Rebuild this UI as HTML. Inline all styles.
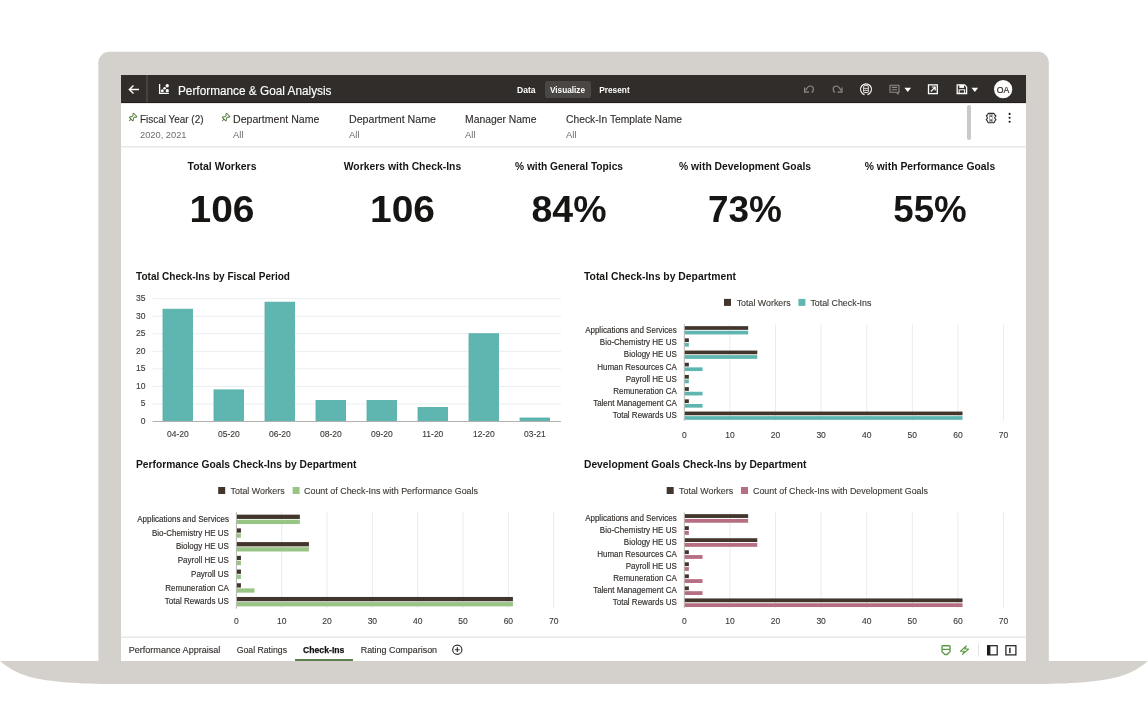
<!DOCTYPE html>
<html><head><meta charset="utf-8"><style>
html,body{margin:0;padding:0;background:#fff;width:1148px;height:724px;overflow:hidden}
svg{display:block;font-family:"Liberation Sans", sans-serif;will-change:transform}
</style></head><body>
<svg width="1148" height="724" viewBox="0 0 1148 724">
<rect x="98.4" y="51.8" width="950.4" height="620" rx="11" fill="#d4d1cc"/>
<path d="M0 661 H1148 C1130.5 675.5 1112.7 684 1031 684 H117 C35.3 684 17.5 675.5 0 661 Z" fill="#d4d1cc"/>
<rect x="121" y="75" width="905" height="586" fill="#ffffff" rx="0"/>
<rect x="121" y="75" width="905" height="28" fill="#312d2a" rx="0"/>
<rect x="146" y="75" width="2" height="28" fill="#47433f" rx="0"/>
<rect x="121" y="102.2" width="905" height="0.9" fill="#1e1b19" rx="0"/>
<path d="M139 89.5 H129.5 M133.5 85.5 L129.3 89.5 L133.5 93.5" stroke="#fff" stroke-width="1.4" fill="none"/>
<path d="M159.6 84 V93.3 H168.8" stroke="#fff" stroke-width="1.3" fill="none"/>
<circle cx="162.3" cy="90.7" r="1.5" fill="#fff"/><circle cx="164.6" cy="88.3" r="1.3" fill="#fff"/><circle cx="167.2" cy="85.8" r="1.7" fill="#fff"/><circle cx="167.3" cy="90.7" r="1.6" fill="#fff"/>
<text x="178" y="95" font-size="12" fill="#fff" font-weight="normal" text-anchor="start" textLength="153.5" lengthAdjust="spacingAndGlyphs" stroke="#fff" stroke-width="0.15">Performance &amp; Goal Analysis</text>
<rect x="545" y="81" width="46" height="17" fill="#4a4643" rx="2"/>
<text x="517" y="93.3" font-size="9" fill="#fff" font-weight="bold" text-anchor="start" textLength="18.5" lengthAdjust="spacingAndGlyphs">Data</text>
<text x="550" y="93.3" font-size="9" fill="#fff" font-weight="bold" text-anchor="start" textLength="35" lengthAdjust="spacingAndGlyphs">Visualize</text>
<text x="599.2" y="93.3" font-size="9" fill="#fff" font-weight="bold" text-anchor="start" textLength="30.5" lengthAdjust="spacingAndGlyphs">Present</text>
<path d="M811.8 92.6 C814.6 89.6 813.6 86 810.2 86 C808.6 86 807.3 87 805.6 90.6" stroke="#8f8b88" stroke-width="1.2" fill="none"/><path d="M804.6 87.6 V92.2 H809" stroke="#8f8b88" stroke-width="1.2" fill="none"/>
<path d="M834.8 92.6 C832 89.6 833 86 836.4 86 C838 86 839.3 87 841 90.6" stroke="#8f8b88" stroke-width="1.2" fill="none"/><path d="M842 87.6 V92.2 H837.6" stroke="#8f8b88" stroke-width="1.2" fill="none"/>
<path d="M864.5 94.6 A5.5 5.5 0 1 1 867.5 94.6" stroke="#fff" stroke-width="1.2" fill="none"/>
<rect x="863.7" y="85.6" width="4.6" height="7" rx="0.8" stroke="#fff" stroke-width="0.95" fill="none"/><path d="M864.3 88.4 H867.7 M864.3 90.4 H867.7" stroke="#fff" stroke-width="0.8"/><rect x="865.2" y="84.5" width="1.6" height="1.2" fill="#bbb"/>
<path d="M890 85.2 H899 V92.2 H898 V94 L896.2 92.2 H890 Z M891.8 87.4 H897.2 M891.8 89.7 H897.2" stroke="#8f8b88" stroke-width="1.1" fill="none"/>
<path d="M904.4 87.8 H911.1 L907.75 92 Z" fill="#fff"/>
<rect x="928.5" y="84.9" width="8.8" height="8.7" stroke="#fff" stroke-width="1.3" fill="none"/><path d="M930.8 91.5 L935 87.3 M931.8 87 H935.2 V90.4" stroke="#fff" stroke-width="1.2" fill="none"/>
<path d="M957.2 84.9 H964.6 L966.6 86.9 V93.5 H957.2 Z" stroke="#fff" stroke-width="1.3" fill="none"/><rect x="959.3" y="84.9" width="4.8" height="3" fill="#fff"/><rect x="959.2" y="89.8" width="5.4" height="3.7" stroke="#fff" stroke-width="1" fill="none"/>
<path d="M971.5 87.8 H978.2 L974.85 92 Z" fill="#fff"/>
<circle cx="1003.15" cy="89.2" r="9.1" fill="#fff"/>
<text x="1003.1" y="92.9" font-size="9.2" fill="#312d2a" font-weight="normal" text-anchor="middle" textLength="12.6" lengthAdjust="spacingAndGlyphs" stroke="#312d2a" stroke-width="0.2">OA</text>
<rect x="121" y="146.3" width="905" height="1.2" fill="#e4e3e1" rx="0"/>
<g transform="translate(135.25 114.9) rotate(45)"><path d="M-2.3 0 H2.3 V1.1 L1.1 1.9 V3.8 L2.4 5 V6 H-2.4 V5 L-1.1 3.8 V1.9 L-2.3 1.1 Z" stroke="#4e7d3c" stroke-width="0.95" fill="none" stroke-linejoin="round"/><path d="M0 6 V8.6" stroke="#4e7d3c" stroke-width="1"/></g>
<g transform="translate(228.25 114.9) rotate(45)"><path d="M-2.3 0 H2.3 V1.1 L1.1 1.9 V3.8 L2.4 5 V6 H-2.4 V5 L-1.1 3.8 V1.9 L-2.3 1.1 Z" stroke="#4e7d3c" stroke-width="0.95" fill="none" stroke-linejoin="round"/><path d="M0 6 V8.6" stroke="#4e7d3c" stroke-width="1"/></g>
<text x="140" y="122.8" font-size="10" fill="#312d2a" font-weight="normal" text-anchor="start" textLength="63.5" lengthAdjust="spacingAndGlyphs" stroke="#312d2a" stroke-width="0.12">Fiscal Year (2)</text>
<text x="233" y="122.8" font-size="10" fill="#312d2a" font-weight="normal" text-anchor="start" textLength="86.4" lengthAdjust="spacingAndGlyphs" stroke="#312d2a" stroke-width="0.12">Department Name</text>
<text x="349" y="122.8" font-size="10" fill="#312d2a" font-weight="normal" text-anchor="start" textLength="87" lengthAdjust="spacingAndGlyphs" stroke="#312d2a" stroke-width="0.12">Department Name</text>
<text x="465" y="122.8" font-size="10" fill="#312d2a" font-weight="normal" text-anchor="start" textLength="71.5" lengthAdjust="spacingAndGlyphs" stroke="#312d2a" stroke-width="0.12">Manager Name</text>
<text x="566" y="122.8" font-size="10" fill="#312d2a" font-weight="normal" text-anchor="start" textLength="116" lengthAdjust="spacingAndGlyphs" stroke="#312d2a" stroke-width="0.12">Check-In Template Name</text>
<text x="140" y="138" font-size="9.4" fill="#6f6c69" font-weight="normal" text-anchor="start" textLength="46.5" lengthAdjust="spacingAndGlyphs">2020, 2021</text>
<text x="233" y="137.9" font-size="9.8" fill="#6f6c69" font-weight="normal" text-anchor="start" textLength="10.5" lengthAdjust="spacingAndGlyphs">All</text>
<text x="349" y="137.9" font-size="9.8" fill="#6f6c69" font-weight="normal" text-anchor="start" textLength="10.5" lengthAdjust="spacingAndGlyphs">All</text>
<text x="465" y="137.9" font-size="9.8" fill="#6f6c69" font-weight="normal" text-anchor="start" textLength="10.5" lengthAdjust="spacingAndGlyphs">All</text>
<text x="566" y="137.9" font-size="9.8" fill="#6f6c69" font-weight="normal" text-anchor="start" textLength="10.5" lengthAdjust="spacingAndGlyphs">All</text>
<rect x="967" y="105" width="4" height="35" fill="#c9c9c9" rx="2"/>
<path d="M988.2 113.4 H994 L994.9 115 L996 116 L994.9 117.2 V118.6 L996 119.7 L994.9 120.9 L994 122.8 H988.2 L987.3 120.9 L986.2 119.7 L987.3 118.6 V117.2 L986.2 116 L987.3 115 Z" stroke="#312d2a" stroke-width="1.1" fill="none" stroke-linejoin="round"/>
<rect x="989.4" y="114.7" width="3.4" height="6.9" stroke="#8a8683" stroke-width="0.7" fill="none"/><circle cx="991.1" cy="116.1" r="0.95" fill="#312d2a"/><circle cx="991.1" cy="120.1" r="0.95" fill="#312d2a"/>
<circle cx="1009.6" cy="113.9" r="1.05" fill="#161513"/>
<circle cx="1009.6" cy="117.8" r="1.05" fill="#161513"/>
<circle cx="1009.6" cy="121.7" r="1.05" fill="#161513"/>
<text x="222" y="170.2" font-size="10.2" fill="#161513" font-weight="bold" text-anchor="middle" textLength="69" lengthAdjust="spacingAndGlyphs">Total Workers</text>
<text x="222" y="221.8" font-size="36.5" fill="#161513" font-weight="bold" text-anchor="middle" textLength="65" lengthAdjust="spacingAndGlyphs">106</text>
<text x="402.5" y="170.2" font-size="10.2" fill="#161513" font-weight="bold" text-anchor="middle" textLength="117.5" lengthAdjust="spacingAndGlyphs">Workers with Check-Ins</text>
<text x="402.5" y="221.8" font-size="36.5" fill="#161513" font-weight="bold" text-anchor="middle" textLength="65" lengthAdjust="spacingAndGlyphs">106</text>
<text x="569" y="170.2" font-size="10.2" fill="#161513" font-weight="bold" text-anchor="middle" textLength="108" lengthAdjust="spacingAndGlyphs">% with General Topics</text>
<text x="569" y="221.8" font-size="36.5" fill="#161513" font-weight="bold" text-anchor="middle" textLength="75" lengthAdjust="spacingAndGlyphs">84%</text>
<text x="745" y="170.2" font-size="10.2" fill="#161513" font-weight="bold" text-anchor="middle" textLength="132" lengthAdjust="spacingAndGlyphs">% with Development Goals</text>
<text x="745" y="221.8" font-size="36.5" fill="#161513" font-weight="bold" text-anchor="middle" textLength="74" lengthAdjust="spacingAndGlyphs">73%</text>
<text x="930" y="170.2" font-size="10.2" fill="#161513" font-weight="bold" text-anchor="middle" textLength="130.5" lengthAdjust="spacingAndGlyphs">% with Performance Goals</text>
<text x="930" y="221.8" font-size="36.5" fill="#161513" font-weight="bold" text-anchor="middle" textLength="73.5" lengthAdjust="spacingAndGlyphs">55%</text>
<text x="136" y="280.4" font-size="10" fill="#161513" font-weight="bold" text-anchor="start" textLength="154" lengthAdjust="spacingAndGlyphs">Total Check-Ins by Fiscal Period</text>
<text x="145.5" y="424.0" font-size="8.5" fill="#3d3935" font-weight="normal" text-anchor="end" stroke="#3d3935" stroke-width="0.12">0</text>
<rect x="152.5" y="403.45" width="408.5" height="1" fill="#e9eef1" rx="0"/>
<text x="145.5" y="406.45" font-size="8.5" fill="#3d3935" font-weight="normal" text-anchor="end" stroke="#3d3935" stroke-width="0.12">5</text>
<rect x="152.5" y="385.9" width="408.5" height="1" fill="#e9eef1" rx="0"/>
<text x="145.5" y="388.9" font-size="8.5" fill="#3d3935" font-weight="normal" text-anchor="end" stroke="#3d3935" stroke-width="0.12">10</text>
<rect x="152.5" y="368.35" width="408.5" height="1" fill="#e9eef1" rx="0"/>
<text x="145.5" y="371.35" font-size="8.5" fill="#3d3935" font-weight="normal" text-anchor="end" stroke="#3d3935" stroke-width="0.12">15</text>
<rect x="152.5" y="350.8" width="408.5" height="1" fill="#e9eef1" rx="0"/>
<text x="145.5" y="353.8" font-size="8.5" fill="#3d3935" font-weight="normal" text-anchor="end" stroke="#3d3935" stroke-width="0.12">20</text>
<rect x="152.5" y="333.25" width="408.5" height="1" fill="#e9eef1" rx="0"/>
<text x="145.5" y="336.25" font-size="8.5" fill="#3d3935" font-weight="normal" text-anchor="end" stroke="#3d3935" stroke-width="0.12">25</text>
<rect x="152.5" y="315.7" width="408.5" height="1" fill="#e9eef1" rx="0"/>
<text x="145.5" y="318.7" font-size="8.5" fill="#3d3935" font-weight="normal" text-anchor="end" stroke="#3d3935" stroke-width="0.12">30</text>
<rect x="152.5" y="298.15" width="408.5" height="1" fill="#e9eef1" rx="0"/>
<text x="145.5" y="301.15" font-size="8.5" fill="#3d3935" font-weight="normal" text-anchor="end" stroke="#3d3935" stroke-width="0.12">35</text>
<rect x="163" y="309.18" width="29.6" height="112.32" fill="#5fb6b1" rx="0" stroke="#55aea8" stroke-width="0.8"/>
<text x="177.8" y="437" font-size="8.5" fill="#3d3935" font-weight="normal" text-anchor="middle" stroke="#3d3935" stroke-width="0.12">04-20</text>
<rect x="214" y="389.91" width="29.6" height="31.589999999999996" fill="#5fb6b1" rx="0" stroke="#55aea8" stroke-width="0.8"/>
<text x="228.8" y="437" font-size="8.5" fill="#3d3935" font-weight="normal" text-anchor="middle" stroke="#3d3935" stroke-width="0.12">05-20</text>
<rect x="265" y="302.16" width="29.6" height="119.33999999999999" fill="#5fb6b1" rx="0" stroke="#55aea8" stroke-width="0.8"/>
<text x="279.8" y="437" font-size="8.5" fill="#3d3935" font-weight="normal" text-anchor="middle" stroke="#3d3935" stroke-width="0.12">06-20</text>
<rect x="316" y="400.44" width="29.6" height="21.06" fill="#5fb6b1" rx="0" stroke="#55aea8" stroke-width="0.8"/>
<text x="330.8" y="437" font-size="8.5" fill="#3d3935" font-weight="normal" text-anchor="middle" stroke="#3d3935" stroke-width="0.12">08-20</text>
<rect x="367" y="400.44" width="29.6" height="21.06" fill="#5fb6b1" rx="0" stroke="#55aea8" stroke-width="0.8"/>
<text x="381.8" y="437" font-size="8.5" fill="#3d3935" font-weight="normal" text-anchor="middle" stroke="#3d3935" stroke-width="0.12">09-20</text>
<rect x="418" y="407.46" width="29.6" height="14.04" fill="#5fb6b1" rx="0" stroke="#55aea8" stroke-width="0.8"/>
<text x="432.8" y="437" font-size="8.5" fill="#3d3935" font-weight="normal" text-anchor="middle" stroke="#3d3935" stroke-width="0.12">11-20</text>
<rect x="469" y="333.75" width="29.6" height="87.75" fill="#5fb6b1" rx="0" stroke="#55aea8" stroke-width="0.8"/>
<text x="483.8" y="437" font-size="8.5" fill="#3d3935" font-weight="normal" text-anchor="middle" stroke="#3d3935" stroke-width="0.12">12-20</text>
<rect x="520" y="417.99" width="29.6" height="3.51" fill="#5fb6b1" rx="0" stroke="#55aea8" stroke-width="0.8"/>
<text x="534.8" y="437" font-size="8.5" fill="#3d3935" font-weight="normal" text-anchor="middle" stroke="#3d3935" stroke-width="0.12">03-21</text>
<rect x="152.5" y="421.0" width="408.5" height="1" fill="#b3b1ae" rx="0"/>
<text x="584" y="280.4" font-size="10" fill="#161513" font-weight="bold" text-anchor="start" textLength="152" lengthAdjust="spacingAndGlyphs">Total Check-Ins by Department</text>
<rect x="724" y="298.9" width="7" height="7" fill="#42352c" rx="0"/>
<text x="736.7" y="305.5" font-size="9" fill="#3d3935" font-weight="normal" text-anchor="start" textLength="54" lengthAdjust="spacingAndGlyphs" stroke="#3d3935" stroke-width="0.12">Total Workers</text>
<rect x="798.4" y="298.9" width="7" height="7" fill="#5fb6b1" rx="0"/>
<text x="810.4" y="305.5" font-size="9" fill="#3d3935" font-weight="normal" text-anchor="start" textLength="61" lengthAdjust="spacingAndGlyphs" stroke="#3d3935" stroke-width="0.12">Total Check-Ins</text>
<rect x="729.41" y="324.3" width="1" height="96.69999999999999" fill="#e9ebef" rx="0"/>
<rect x="775.02" y="324.3" width="1" height="96.69999999999999" fill="#e9ebef" rx="0"/>
<rect x="820.6299999999999" y="324.3" width="1" height="96.69999999999999" fill="#e9ebef" rx="0"/>
<rect x="866.24" y="324.3" width="1" height="96.69999999999999" fill="#e9ebef" rx="0"/>
<rect x="911.8499999999999" y="324.3" width="1" height="96.69999999999999" fill="#e9ebef" rx="0"/>
<rect x="957.4599999999999" y="324.3" width="1" height="96.69999999999999" fill="#e9ebef" rx="0"/>
<rect x="1003.0699999999999" y="324.3" width="1" height="96.69999999999999" fill="#e9ebef" rx="0"/>
<text x="684.3" y="437.5" font-size="8.5" fill="#3d3935" font-weight="normal" text-anchor="middle" stroke="#3d3935" stroke-width="0.12">0</text>
<text x="729.91" y="437.5" font-size="8.5" fill="#3d3935" font-weight="normal" text-anchor="middle" stroke="#3d3935" stroke-width="0.12">10</text>
<text x="775.52" y="437.5" font-size="8.5" fill="#3d3935" font-weight="normal" text-anchor="middle" stroke="#3d3935" stroke-width="0.12">20</text>
<text x="821.1299999999999" y="437.5" font-size="8.5" fill="#3d3935" font-weight="normal" text-anchor="middle" stroke="#3d3935" stroke-width="0.12">30</text>
<text x="866.74" y="437.5" font-size="8.5" fill="#3d3935" font-weight="normal" text-anchor="middle" stroke="#3d3935" stroke-width="0.12">40</text>
<text x="912.3499999999999" y="437.5" font-size="8.5" fill="#3d3935" font-weight="normal" text-anchor="middle" stroke="#3d3935" stroke-width="0.12">50</text>
<text x="957.9599999999999" y="437.5" font-size="8.5" fill="#3d3935" font-weight="normal" text-anchor="middle" stroke="#3d3935" stroke-width="0.12">60</text>
<text x="1003.5699999999999" y="437.5" font-size="8.5" fill="#3d3935" font-weight="normal" text-anchor="middle" stroke="#3d3935" stroke-width="0.12">70</text>
<rect x="684.3" y="326.15000000000003" width="63.854" height="3.7" fill="#42352c" rx="0"/>
<rect x="684.3" y="330.75" width="63.854" height="3.7" fill="#5fb6b1" rx="0"/>
<text x="676.8" y="332.90000000000003" font-size="8.6" fill="#312d2a" font-weight="normal" text-anchor="end" textLength="91.67" lengthAdjust="spacingAndGlyphs" stroke="#312d2a" stroke-width="0.15">Applications and Services</text>
<rect x="684.3" y="338.35" width="4.561" height="3.7" fill="#42352c" rx="0"/>
<rect x="684.3" y="342.95" width="4.561" height="3.7" fill="#5fb6b1" rx="0"/>
<text x="676.8" y="345.1" font-size="8.6" fill="#312d2a" font-weight="normal" text-anchor="end" textLength="76.97" lengthAdjust="spacingAndGlyphs" stroke="#312d2a" stroke-width="0.15">Bio-Chemistry HE US</text>
<rect x="684.3" y="350.55" width="72.976" height="3.7" fill="#42352c" rx="0"/>
<rect x="684.3" y="355.15" width="72.976" height="3.7" fill="#5fb6b1" rx="0"/>
<text x="676.8" y="357.3" font-size="8.6" fill="#312d2a" font-weight="normal" text-anchor="end" textLength="52.95" lengthAdjust="spacingAndGlyphs" stroke="#312d2a" stroke-width="0.15">Biology HE US</text>
<rect x="684.3" y="362.75" width="4.561" height="3.7" fill="#42352c" rx="0"/>
<rect x="684.3" y="367.34999999999997" width="18.244" height="3.7" fill="#5fb6b1" rx="0"/>
<text x="676.8" y="369.5" font-size="8.6" fill="#312d2a" font-weight="normal" text-anchor="end" textLength="79.64" lengthAdjust="spacingAndGlyphs" stroke="#312d2a" stroke-width="0.15">Human Resources CA</text>
<rect x="684.3" y="374.95000000000005" width="4.561" height="3.7" fill="#42352c" rx="0"/>
<rect x="684.3" y="379.55" width="4.561" height="3.7" fill="#5fb6b1" rx="0"/>
<text x="676.8" y="381.70000000000005" font-size="8.6" fill="#312d2a" font-weight="normal" text-anchor="end" textLength="51.17" lengthAdjust="spacingAndGlyphs" stroke="#312d2a" stroke-width="0.15">Payroll HE US</text>
<rect x="684.3" y="387.15000000000003" width="4.561" height="3.7" fill="#42352c" rx="0"/>
<rect x="684.3" y="391.75" width="18.244" height="3.7" fill="#5fb6b1" rx="0"/>
<text x="676.8" y="393.90000000000003" font-size="8.6" fill="#312d2a" font-weight="normal" text-anchor="end" textLength="63.64" lengthAdjust="spacingAndGlyphs" stroke="#312d2a" stroke-width="0.15">Remuneration CA</text>
<rect x="684.3" y="399.35" width="4.561" height="3.7" fill="#42352c" rx="0"/>
<rect x="684.3" y="403.95" width="18.244" height="3.7" fill="#5fb6b1" rx="0"/>
<text x="676.8" y="406.1" font-size="8.6" fill="#312d2a" font-weight="normal" text-anchor="end" textLength="83.66" lengthAdjust="spacingAndGlyphs" stroke="#312d2a" stroke-width="0.15">Talent Management CA</text>
<rect x="684.3" y="411.55" width="278.221" height="3.7" fill="#42352c" rx="0"/>
<rect x="684.3" y="416.15" width="278.221" height="3.7" fill="#5fb6b1" rx="0"/>
<text x="676.8" y="418.3" font-size="8.6" fill="#312d2a" font-weight="normal" text-anchor="end" textLength="64.06" lengthAdjust="spacingAndGlyphs" stroke="#312d2a" stroke-width="0.15">Total Rewards US</text>
<rect x="683.8" y="324.3" width="1" height="96.69999999999999" fill="#b9b7b4" rx="0"/>
<text x="136" y="468.4" font-size="10" fill="#161513" font-weight="bold" text-anchor="start" textLength="220.5" lengthAdjust="spacingAndGlyphs">Performance Goals Check-Ins by Department</text>
<rect x="218.2" y="487.0" width="7" height="7" fill="#42352c" rx="0"/>
<text x="230.6" y="493.6" font-size="9" fill="#3d3935" font-weight="normal" text-anchor="start" textLength="54" lengthAdjust="spacingAndGlyphs" stroke="#3d3935" stroke-width="0.12">Total Workers</text>
<rect x="292.6" y="487.0" width="7" height="7" fill="#98c585" rx="0"/>
<text x="304" y="493.6" font-size="9" fill="#3d3935" font-weight="normal" text-anchor="start" textLength="174" lengthAdjust="spacingAndGlyphs" stroke="#3d3935" stroke-width="0.12">Count of Check-Ins with Performance Goals</text>
<rect x="281.23" y="511.9" width="1" height="96.80000000000007" fill="#e9ebef" rx="0"/>
<rect x="326.56" y="511.9" width="1" height="96.80000000000007" fill="#e9ebef" rx="0"/>
<rect x="371.89" y="511.9" width="1" height="96.80000000000007" fill="#e9ebef" rx="0"/>
<rect x="417.22" y="511.9" width="1" height="96.80000000000007" fill="#e9ebef" rx="0"/>
<rect x="462.55" y="511.9" width="1" height="96.80000000000007" fill="#e9ebef" rx="0"/>
<rect x="507.88" y="511.9" width="1" height="96.80000000000007" fill="#e9ebef" rx="0"/>
<rect x="553.21" y="511.9" width="1" height="96.80000000000007" fill="#e9ebef" rx="0"/>
<text x="236.4" y="624" font-size="8.5" fill="#3d3935" font-weight="normal" text-anchor="middle" stroke="#3d3935" stroke-width="0.12">0</text>
<text x="281.73" y="624" font-size="8.5" fill="#3d3935" font-weight="normal" text-anchor="middle" stroke="#3d3935" stroke-width="0.12">10</text>
<text x="327.06" y="624" font-size="8.5" fill="#3d3935" font-weight="normal" text-anchor="middle" stroke="#3d3935" stroke-width="0.12">20</text>
<text x="372.39" y="624" font-size="8.5" fill="#3d3935" font-weight="normal" text-anchor="middle" stroke="#3d3935" stroke-width="0.12">30</text>
<text x="417.72" y="624" font-size="8.5" fill="#3d3935" font-weight="normal" text-anchor="middle" stroke="#3d3935" stroke-width="0.12">40</text>
<text x="463.05" y="624" font-size="8.5" fill="#3d3935" font-weight="normal" text-anchor="middle" stroke="#3d3935" stroke-width="0.12">50</text>
<text x="508.38" y="624" font-size="8.5" fill="#3d3935" font-weight="normal" text-anchor="middle" stroke="#3d3935" stroke-width="0.12">60</text>
<text x="553.71" y="624" font-size="8.5" fill="#3d3935" font-weight="normal" text-anchor="middle" stroke="#3d3935" stroke-width="0.12">70</text>
<rect x="236.4" y="514.6500000000001" width="63.462" height="4.3" fill="#42352c" rx="0"/>
<rect x="236.4" y="519.75" width="63.462" height="4.3" fill="#98c585" rx="0"/>
<text x="228.9" y="521.95" font-size="8.6" fill="#312d2a" font-weight="normal" text-anchor="end" textLength="91.67" lengthAdjust="spacingAndGlyphs" stroke="#312d2a" stroke-width="0.15">Applications and Services</text>
<rect x="236.4" y="528.3700000000001" width="4.533" height="4.3" fill="#42352c" rx="0"/>
<rect x="236.4" y="533.47" width="4.533" height="4.3" fill="#98c585" rx="0"/>
<text x="228.9" y="535.6700000000001" font-size="8.6" fill="#312d2a" font-weight="normal" text-anchor="end" textLength="76.97" lengthAdjust="spacingAndGlyphs" stroke="#312d2a" stroke-width="0.15">Bio-Chemistry HE US</text>
<rect x="236.4" y="542.0900000000001" width="72.528" height="4.3" fill="#42352c" rx="0"/>
<rect x="236.4" y="547.19" width="72.528" height="4.3" fill="#98c585" rx="0"/>
<text x="228.9" y="549.3900000000001" font-size="8.6" fill="#312d2a" font-weight="normal" text-anchor="end" textLength="52.95" lengthAdjust="spacingAndGlyphs" stroke="#312d2a" stroke-width="0.15">Biology HE US</text>
<rect x="236.4" y="555.8100000000001" width="4.533" height="4.3" fill="#42352c" rx="0"/>
<rect x="236.4" y="560.91" width="4.533" height="4.3" fill="#98c585" rx="0"/>
<text x="228.9" y="563.11" font-size="8.6" fill="#312d2a" font-weight="normal" text-anchor="end" textLength="51.17" lengthAdjust="spacingAndGlyphs" stroke="#312d2a" stroke-width="0.15">Payroll HE US</text>
<rect x="236.4" y="569.5300000000001" width="4.533" height="4.3" fill="#42352c" rx="0"/>
<rect x="236.4" y="574.63" width="4.533" height="4.3" fill="#98c585" rx="0"/>
<text x="228.9" y="576.83" font-size="8.6" fill="#312d2a" font-weight="normal" text-anchor="end" textLength="37.83" lengthAdjust="spacingAndGlyphs" stroke="#312d2a" stroke-width="0.15">Payroll US</text>
<rect x="236.4" y="583.2500000000001" width="4.533" height="4.3" fill="#42352c" rx="0"/>
<rect x="236.4" y="588.35" width="18.132" height="4.3" fill="#98c585" rx="0"/>
<text x="228.9" y="590.5500000000001" font-size="8.6" fill="#312d2a" font-weight="normal" text-anchor="end" textLength="63.64" lengthAdjust="spacingAndGlyphs" stroke="#312d2a" stroke-width="0.15">Remuneration CA</text>
<rect x="236.4" y="596.9700000000001" width="276.51300000000003" height="4.3" fill="#42352c" rx="0"/>
<rect x="236.4" y="602.07" width="276.51300000000003" height="4.3" fill="#98c585" rx="0"/>
<text x="228.9" y="604.2700000000001" font-size="8.6" fill="#312d2a" font-weight="normal" text-anchor="end" textLength="64.06" lengthAdjust="spacingAndGlyphs" stroke="#312d2a" stroke-width="0.15">Total Rewards US</text>
<rect x="235.9" y="511.9" width="1" height="96.80000000000007" fill="#b9b7b4" rx="0"/>
<text x="584" y="468.4" font-size="10" fill="#161513" font-weight="bold" text-anchor="start" textLength="222.5" lengthAdjust="spacingAndGlyphs">Development Goals Check-Ins by Department</text>
<rect x="666.7" y="487.0" width="7" height="7" fill="#42352c" rx="0"/>
<text x="679.1" y="493.6" font-size="9" fill="#3d3935" font-weight="normal" text-anchor="start" textLength="54" lengthAdjust="spacingAndGlyphs" stroke="#3d3935" stroke-width="0.12">Total Workers</text>
<rect x="741" y="487.0" width="7" height="7" fill="#b66f82" rx="0"/>
<text x="753" y="493.6" font-size="9" fill="#3d3935" font-weight="normal" text-anchor="start" textLength="175" lengthAdjust="spacingAndGlyphs" stroke="#3d3935" stroke-width="0.12">Count of Check-Ins with Development Goals</text>
<rect x="729.41" y="512.3" width="1" height="95.90000000000009" fill="#e9ebef" rx="0"/>
<rect x="775.02" y="512.3" width="1" height="95.90000000000009" fill="#e9ebef" rx="0"/>
<rect x="820.6299999999999" y="512.3" width="1" height="95.90000000000009" fill="#e9ebef" rx="0"/>
<rect x="866.24" y="512.3" width="1" height="95.90000000000009" fill="#e9ebef" rx="0"/>
<rect x="911.8499999999999" y="512.3" width="1" height="95.90000000000009" fill="#e9ebef" rx="0"/>
<rect x="957.4599999999999" y="512.3" width="1" height="95.90000000000009" fill="#e9ebef" rx="0"/>
<rect x="1003.0699999999999" y="512.3" width="1" height="95.90000000000009" fill="#e9ebef" rx="0"/>
<text x="684.3" y="624" font-size="8.5" fill="#3d3935" font-weight="normal" text-anchor="middle" stroke="#3d3935" stroke-width="0.12">0</text>
<text x="729.91" y="624" font-size="8.5" fill="#3d3935" font-weight="normal" text-anchor="middle" stroke="#3d3935" stroke-width="0.12">10</text>
<text x="775.52" y="624" font-size="8.5" fill="#3d3935" font-weight="normal" text-anchor="middle" stroke="#3d3935" stroke-width="0.12">20</text>
<text x="821.1299999999999" y="624" font-size="8.5" fill="#3d3935" font-weight="normal" text-anchor="middle" stroke="#3d3935" stroke-width="0.12">30</text>
<text x="866.74" y="624" font-size="8.5" fill="#3d3935" font-weight="normal" text-anchor="middle" stroke="#3d3935" stroke-width="0.12">40</text>
<text x="912.3499999999999" y="624" font-size="8.5" fill="#3d3935" font-weight="normal" text-anchor="middle" stroke="#3d3935" stroke-width="0.12">50</text>
<text x="957.9599999999999" y="624" font-size="8.5" fill="#3d3935" font-weight="normal" text-anchor="middle" stroke="#3d3935" stroke-width="0.12">60</text>
<text x="1003.5699999999999" y="624" font-size="8.5" fill="#3d3935" font-weight="normal" text-anchor="middle" stroke="#3d3935" stroke-width="0.12">70</text>
<rect x="684.3" y="514.1500000000001" width="63.854" height="3.8" fill="#42352c" rx="0"/>
<rect x="684.3" y="518.95" width="63.854" height="3.8" fill="#b66f82" rx="0"/>
<text x="676.8" y="521.0500000000001" font-size="8.6" fill="#312d2a" font-weight="normal" text-anchor="end" textLength="91.67" lengthAdjust="spacingAndGlyphs" stroke="#312d2a" stroke-width="0.15">Applications and Services</text>
<rect x="684.3" y="526.19" width="4.561" height="3.8" fill="#42352c" rx="0"/>
<rect x="684.3" y="530.99" width="4.561" height="3.8" fill="#b66f82" rx="0"/>
<text x="676.8" y="533.09" font-size="8.6" fill="#312d2a" font-weight="normal" text-anchor="end" textLength="76.97" lengthAdjust="spacingAndGlyphs" stroke="#312d2a" stroke-width="0.15">Bio-Chemistry HE US</text>
<rect x="684.3" y="538.2300000000001" width="72.976" height="3.8" fill="#42352c" rx="0"/>
<rect x="684.3" y="543.0300000000001" width="72.976" height="3.8" fill="#b66f82" rx="0"/>
<text x="676.8" y="545.1300000000001" font-size="8.6" fill="#312d2a" font-weight="normal" text-anchor="end" textLength="52.95" lengthAdjust="spacingAndGlyphs" stroke="#312d2a" stroke-width="0.15">Biology HE US</text>
<rect x="684.3" y="550.2700000000001" width="4.561" height="3.8" fill="#42352c" rx="0"/>
<rect x="684.3" y="555.07" width="18.244" height="3.8" fill="#b66f82" rx="0"/>
<text x="676.8" y="557.1700000000001" font-size="8.6" fill="#312d2a" font-weight="normal" text-anchor="end" textLength="79.64" lengthAdjust="spacingAndGlyphs" stroke="#312d2a" stroke-width="0.15">Human Resources CA</text>
<rect x="684.3" y="562.3100000000001" width="4.561" height="3.8" fill="#42352c" rx="0"/>
<rect x="684.3" y="567.11" width="4.561" height="3.8" fill="#b66f82" rx="0"/>
<text x="676.8" y="569.21" font-size="8.6" fill="#312d2a" font-weight="normal" text-anchor="end" textLength="51.17" lengthAdjust="spacingAndGlyphs" stroke="#312d2a" stroke-width="0.15">Payroll HE US</text>
<rect x="684.3" y="574.3500000000001" width="4.561" height="3.8" fill="#42352c" rx="0"/>
<rect x="684.3" y="579.1500000000001" width="18.244" height="3.8" fill="#b66f82" rx="0"/>
<text x="676.8" y="581.2500000000001" font-size="8.6" fill="#312d2a" font-weight="normal" text-anchor="end" textLength="63.64" lengthAdjust="spacingAndGlyphs" stroke="#312d2a" stroke-width="0.15">Remuneration CA</text>
<rect x="684.3" y="586.3900000000001" width="4.561" height="3.8" fill="#42352c" rx="0"/>
<rect x="684.3" y="591.19" width="18.244" height="3.8" fill="#b66f82" rx="0"/>
<text x="676.8" y="593.2900000000001" font-size="8.6" fill="#312d2a" font-weight="normal" text-anchor="end" textLength="83.66" lengthAdjust="spacingAndGlyphs" stroke="#312d2a" stroke-width="0.15">Talent Management CA</text>
<rect x="684.3" y="598.4300000000001" width="278.221" height="3.8" fill="#42352c" rx="0"/>
<rect x="684.3" y="603.23" width="278.221" height="3.8" fill="#b66f82" rx="0"/>
<text x="676.8" y="605.33" font-size="8.6" fill="#312d2a" font-weight="normal" text-anchor="end" textLength="64.06" lengthAdjust="spacingAndGlyphs" stroke="#312d2a" stroke-width="0.15">Total Rewards US</text>
<rect x="683.8" y="512.3" width="1" height="95.90000000000009" fill="#b9b7b4" rx="0"/>
<rect x="121" y="636.5" width="905" height="1.2" fill="#e4e3e1" rx="0"/>
<text x="128.7" y="652.7" font-size="9" fill="#312d2a" font-weight="normal" text-anchor="start" textLength="91.7" lengthAdjust="spacingAndGlyphs" stroke="#312d2a" stroke-width="0.12">Performance Appraisal</text>
<text x="236.7" y="652.7" font-size="9" fill="#312d2a" font-weight="normal" text-anchor="start" textLength="50.3" lengthAdjust="spacingAndGlyphs" stroke="#312d2a" stroke-width="0.12">Goal Ratings</text>
<text x="303" y="652.7" font-size="9" fill="#161513" font-weight="bold" text-anchor="start" textLength="41.4" lengthAdjust="spacingAndGlyphs" stroke="#161513" stroke-width="0.25">Check-Ins</text>
<text x="360.7" y="652.7" font-size="9" fill="#312d2a" font-weight="normal" text-anchor="start" textLength="76.4" lengthAdjust="spacingAndGlyphs" stroke="#312d2a" stroke-width="0.12">Rating Comparison</text>
<rect x="295" y="659" width="58" height="2" fill="#5c7f4f" rx="0"/>
<circle cx="457.3" cy="649.7" r="4.6" stroke="#312d2a" stroke-width="1.15" fill="none"/><path d="M454.9 649.7 H459.7 M457.3 647.3 V652.1" stroke="#312d2a" stroke-width="1.15"/>
<path d="M942.8 645.7 H949.2 Q950 645.7 950 646.5 V651.6 L947.2 654.5 H944.8 L942 651.6 V646.5 Q942 645.7 942.8 645.7 Z M942 649.4 H950" stroke="#5b9a44" stroke-width="1.35" fill="none" stroke-linejoin="round"/>
<path d="M966.3 646 L960.5 651.2 H964.3 L962.4 654.4 L968.6 649 H964.8 Z" stroke="#5b9a44" stroke-width="1.05" fill="none" stroke-linejoin="round"/>
<rect x="978" y="643.5" width="1" height="13" fill="#e3e3e3" rx="0"/>
<rect x="987.6" y="645.7" width="9.6" height="9.2" stroke="#1e1b19" stroke-width="1.2" fill="none"/><rect x="987.6" y="645.7" width="2.8" height="9.2" fill="#1e1b19"/>
<rect x="1005.9" y="645.7" width="10" height="9.2" stroke="#1e1b19" stroke-width="1.2" fill="none"/><rect x="1009.2" y="647.8" width="1.4" height="5.4" fill="#1e1b19"/>
</svg>
</body></html>
